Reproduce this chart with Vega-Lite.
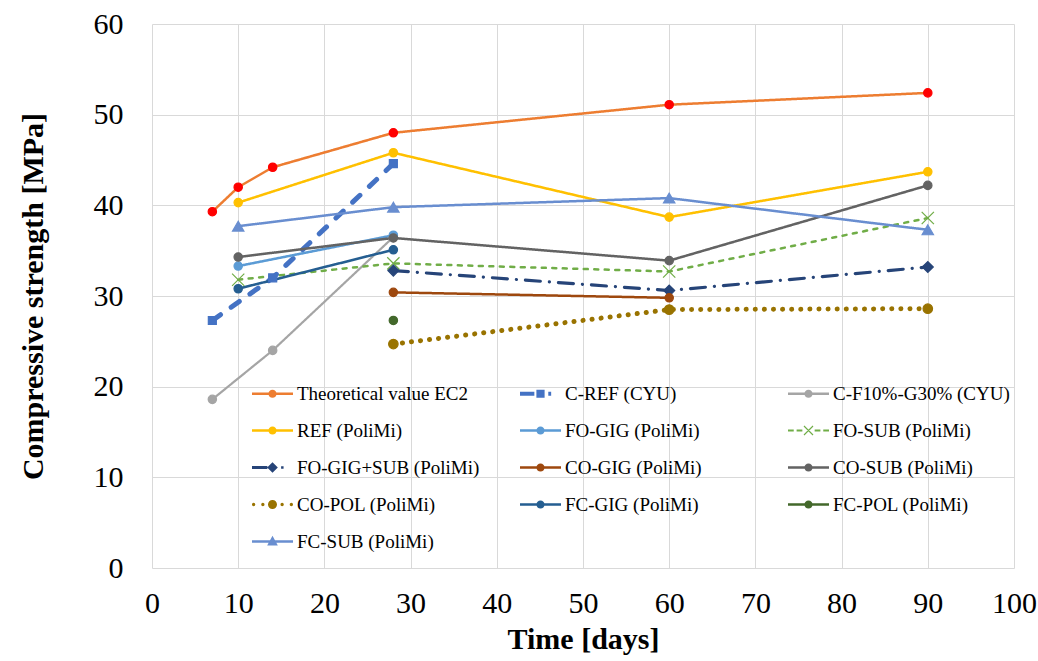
{
  "$schema": "https://vega.github.io/schema/vega-lite/v6.json",
  "width": 862,
  "height": 544,
  "autosize": {"type": "none"},
  "padding": {"left": 152, "top": 24, "right": 24, "bottom": 93},
  "background": "white",
  "config": {
    "view": {"stroke": null},
    "font": "Liberation Serif",
    "axis": {
      "grid": true,
      "gridColor": "#D9D9D9",
      "gridWidth": 1,
      "domain": false,
      "ticks": false,
      "tickSize": 0,
      "labelFont": "Liberation Serif",
      "labelFontSize": 30,
      "labelColor": "#000000",
      "titleFont": "Liberation Serif",
      "titleFontSize": 30,
      "titleFontWeight": "bold",
      "titleColor": "#000000"
    }
  },
  "data": {
    "values": [
      {"s": "Theoretical value EC2", "x": 7, "y": 39.3},
      {"s": "Theoretical value EC2", "x": 10, "y": 42.0},
      {"s": "Theoretical value EC2", "x": 14, "y": 44.2},
      {"s": "Theoretical value EC2", "x": 28, "y": 48.0},
      {"s": "Theoretical value EC2", "x": 60, "y": 51.1},
      {"s": "Theoretical value EC2", "x": 90, "y": 52.4},
      {"s": "C-REF (CYU)", "x": 7, "y": 27.3},
      {"s": "C-REF (CYU)", "x": 14, "y": 32.0},
      {"s": "C-REF (CYU)", "x": 28, "y": 44.6},
      {"s": "C-F10%-G30% (CYU)", "x": 7, "y": 18.6},
      {"s": "C-F10%-G30% (CYU)", "x": 14, "y": 24.0},
      {"s": "C-F10%-G30% (CYU)", "x": 28, "y": 36.5},
      {"s": "REF (PoliMi)", "x": 10, "y": 40.3},
      {"s": "REF (PoliMi)", "x": 28, "y": 45.8},
      {"s": "REF (PoliMi)", "x": 60, "y": 38.7},
      {"s": "REF (PoliMi)", "x": 90, "y": 43.7},
      {"s": "FO-GIG (PoliMi)", "x": 10, "y": 33.3},
      {"s": "FO-GIG (PoliMi)", "x": 28, "y": 36.7},
      {"s": "FO-SUB (PoliMi)", "x": 10, "y": 31.8},
      {"s": "FO-SUB (PoliMi)", "x": 28, "y": 33.6},
      {"s": "FO-SUB (PoliMi)", "x": 60, "y": 32.7},
      {"s": "FO-SUB (PoliMi)", "x": 90, "y": 38.6},
      {"s": "FO-GIG+SUB (PoliMi)", "x": 28, "y": 32.8},
      {"s": "FO-GIG+SUB (PoliMi)", "x": 60, "y": 30.6},
      {"s": "FO-GIG+SUB (PoliMi)", "x": 90, "y": 33.2},
      {"s": "CO-GIG (PoliMi)", "x": 28, "y": 30.4},
      {"s": "CO-GIG (PoliMi)", "x": 60, "y": 29.8},
      {"s": "CO-SUB (PoliMi)", "x": 10, "y": 34.3},
      {"s": "CO-SUB (PoliMi)", "x": 28, "y": 36.4},
      {"s": "CO-SUB (PoliMi)", "x": 60, "y": 33.9},
      {"s": "CO-SUB (PoliMi)", "x": 90, "y": 42.2},
      {"s": "CO-POL (PoliMi)", "x": 28, "y": 24.7},
      {"s": "CO-POL (PoliMi)", "x": 60, "y": 28.5},
      {"s": "CO-POL (PoliMi)", "x": 90, "y": 28.6},
      {"s": "FC-GIG (PoliMi)", "x": 10, "y": 30.8},
      {"s": "FC-GIG (PoliMi)", "x": 28, "y": 35.1},
      {"s": "FC-POL (PoliMi)", "x": 28, "y": 27.3},
      {"s": "FC-SUB (PoliMi)", "x": 10, "y": 37.7},
      {"s": "FC-SUB (PoliMi)", "x": 28, "y": 39.8},
      {"s": "FC-SUB (PoliMi)", "x": 60, "y": 40.8},
      {"s": "FC-SUB (PoliMi)", "x": 90, "y": 37.3}
    ]
  },
  "layer": [
    {
      "mark": {"type": "line", "strokeCap": "round", "strokeJoin": "round"},
      "encoding": {
        "x": {
          "field": "x", "type": "quantitative",
          "scale": {"domain": [0, 100], "nice": false},
          "axis": {"values": [0,10,20,30,40,50,60,70,80,90,100], "title": "Time [days]", "labelPadding": 20, "titlePadding": 6, "labelFlush": false}
        },
        "y": {
          "field": "y", "type": "quantitative",
          "scale": {"domain": [0, 60], "nice": false},
          "axis": {"values": [0,10,20,30,40,50,60], "title": "Compressive strength [MPa]", "labelPadding": 29, "titlePadding": 45, "labelFlush": false}
        },
        "color": {
          "field": "s", "type": "nominal",
          "scale": {
            "domain": ["Theoretical value EC2", "C-REF (CYU)", "C-F10%-G30% (CYU)", "REF (PoliMi)", "FO-GIG (PoliMi)", "FO-SUB (PoliMi)", "FO-GIG+SUB (PoliMi)", "CO-GIG (PoliMi)", "CO-SUB (PoliMi)", "CO-POL (PoliMi)", "FC-GIG (PoliMi)", "FC-POL (PoliMi)", "FC-SUB (PoliMi)"],
            "range": ["#ED7D31", "#4472C4", "#A5A5A5", "#FFC000", "#5B9BD5", "#70AD47", "#264478", "#9E480E", "#636363", "#997300", "#255E91", "#43682B", "#698ED0"]
          },
          "legend": {
            "title": null,
            "orient": "none",
            "direction": "horizontal",
            "legendX": 100,
            "legendY": 349,
            "columns": 3,
            "gridAlign": "all",
            "columnPadding": 40,
            "rowPadding": 6,
            "padding": 0,
            "symbolSize": 1681,
            "symbolStrokeWidth": 0,
            "labelOffset": 4,
            "labelFont": "Liberation Serif",
            "labelFontSize": 19,
            "labelColor": "#000000",
            "labelLimit": 400,
            "encode": {
              "symbols": {
                "update": {
                  "fill": {"scale": "color", "field": "value"},
                  "stroke": {"value": "transparent"},
                  "strokeWidth": {"value": 0},
                  "size": {"value": 1681},
                  "shape": {"signal": "datum.value === 'C-REF (CYU)' ? 'M-1,-0.1H-0.3V0.1H-1Z M-0.2,-0.2H0.2V0.2H-0.2Z M0.38,-0.1H0.52V0.1H0.38Z' : datum.value === 'FO-SUB (PoliMi)' ? 'M-1,-0.05H-0.72V0.05H-1Z M-0.58,-0.05H-0.3V0.05H-0.58Z M0.3,-0.05H0.58V0.05H0.3Z M0.72,-0.05H1V0.05H0.72Z M-0.24,-0.2L-0.2,-0.24L0.24,0.2L0.2,0.24Z M-0.24,0.2L0.2,-0.24L0.24,-0.2L-0.2,0.24Z' : datum.value === 'FO-GIG+SUB (PoliMi)' ? 'M-1,-0.07H-0.25V0.07H-1Z M0,-0.26L0.26,0L0,0.26L-0.26,0Z M0.42,-0.06H0.54V0.06H0.42Z' : datum.value === 'CO-POL (PoliMi)' ? 'M-0.84,0A0.08,0.08,0,1,1,-1,0A0.08,0.08,0,1,1,-0.84,0Z M-0.39,0A0.08,0.08,0,1,1,-0.55,0A0.08,0.08,0,1,1,-0.39,0Z M0.22,0A0.22,0.22,0,1,1,-0.22,0A0.22,0.22,0,1,1,0.22,0Z M0.55,0A0.08,0.08,0,1,1,0.39,0A0.08,0.08,0,1,1,0.55,0Z M1,0A0.08,0.08,0,1,1,0.84,0A0.08,0.08,0,1,1,1,0Z' : datum.value === 'FC-SUB (PoliMi)' ? 'M-1,-0.06H1V0.06H-1Z M0,-0.28L0.26,0.2L-0.26,0.2Z' : 'M-1,-0.06H1V0.06H-1Z M0.2,0A0.2,0.2,0,1,1,-0.2,0A0.2,0.2,0,1,1,0.2,0Z'"}
                }
              }
            }
          }
        },
        "strokeDash": {
          "field": "s", "type": "nominal", "legend": null,
          "scale": {
            "domain": ["FC-SUB (PoliMi)", "FC-POL (PoliMi)", "FC-GIG (PoliMi)", "CO-POL (PoliMi)", "CO-SUB (PoliMi)", "CO-GIG (PoliMi)", "FO-GIG+SUB (PoliMi)", "FO-SUB (PoliMi)", "FO-GIG (PoliMi)", "REF (PoliMi)", "C-F10%-G30% (CYU)", "C-REF (CYU)", "Theoretical value EC2"],
            "range": [[1, 0], [1, 0], [1, 0], [0.1, 9], [1, 0], [1, 0], [15, 9, 0.1, 9], [4, 6.5], [1, 0], [1, 0], [1, 0], [10, 13], [1, 0]]
          }
        },
        "strokeWidth": {
          "field": "s", "type": "nominal", "legend": null,
          "scale": {
            "type": "ordinal",
            "domain": ["FC-SUB (PoliMi)", "FC-POL (PoliMi)", "FC-GIG (PoliMi)", "CO-POL (PoliMi)", "CO-SUB (PoliMi)", "CO-GIG (PoliMi)", "FO-GIG+SUB (PoliMi)", "FO-SUB (PoliMi)", "FO-GIG (PoliMi)", "REF (PoliMi)", "C-F10%-G30% (CYU)", "C-REF (CYU)", "Theoretical value EC2"],
            "range": [2.5, 2.5, 2.5, 5, 2.5, 2.5, 3.2, 2.5, 2.5, 2.5, 2.2, 5, 2.5]
          }
        }
      }
    },
    {
      "mark": {"type": "point", "filled": true, "opacity": 1, "strokeWidth": 1.2},
      "encoding": {
        "x": {"field": "x", "type": "quantitative"},
        "y": {"field": "y", "type": "quantitative"},
        "fill": {
          "field": "s", "type": "nominal", "legend": null,
          "scale": {
            "domain": ["FC-SUB (PoliMi)", "FC-POL (PoliMi)", "FC-GIG (PoliMi)", "CO-POL (PoliMi)", "CO-SUB (PoliMi)", "CO-GIG (PoliMi)", "FO-GIG+SUB (PoliMi)", "FO-SUB (PoliMi)", "FO-GIG (PoliMi)", "REF (PoliMi)", "C-F10%-G30% (CYU)", "C-REF (CYU)", "Theoretical value EC2"],
            "range": ["#698ED0", "#43682B", "#255E91", "#997300", "#636363", "#9E480E", "#264478", "#70AD47", "#5B9BD5", "#FFC000", "#A5A5A5", "#4472C4", "#FF0000"]
          }
        },
        "stroke": {
          "field": "s", "type": "nominal", "legend": null,
          "scale": {
            "domain": ["FC-SUB (PoliMi)", "FC-POL (PoliMi)", "FC-GIG (PoliMi)", "CO-POL (PoliMi)", "CO-SUB (PoliMi)", "CO-GIG (PoliMi)", "FO-GIG+SUB (PoliMi)", "FO-SUB (PoliMi)", "FO-GIG (PoliMi)", "REF (PoliMi)", "C-F10%-G30% (CYU)", "C-REF (CYU)", "Theoretical value EC2"],
            "range": ["#698ED0", "#43682B", "#255E91", "#997300", "#636363", "#9E480E", "#264478", "#70AD47", "#5B9BD5", "#FFC000", "#A5A5A5", "#4472C4", "#FF0000"]
          }
        },
        "shape": {
          "field": "s", "type": "nominal", "legend": null,
          "scale": {
            "domain": ["FC-SUB (PoliMi)", "FC-POL (PoliMi)", "FC-GIG (PoliMi)", "CO-POL (PoliMi)", "CO-SUB (PoliMi)", "CO-GIG (PoliMi)", "FO-GIG+SUB (PoliMi)", "FO-SUB (PoliMi)", "FO-GIG (PoliMi)", "REF (PoliMi)", "C-F10%-G30% (CYU)", "C-REF (CYU)", "Theoretical value EC2"],
            "range": ["triangle-up", "circle", "circle", "circle", "circle", "circle", "diamond", "M-1,-1L1,1M-1,1L1,-1", "circle", "circle", "circle", "square", "circle"]
          }
        },
        "size": {
          "field": "s", "type": "nominal", "legend": null,
          "scale": {
            "type": "ordinal",
            "domain": ["FC-SUB (PoliMi)", "FC-POL (PoliMi)", "FC-GIG (PoliMi)", "CO-POL (PoliMi)", "CO-SUB (PoliMi)", "CO-GIG (PoliMi)", "FO-GIG+SUB (PoliMi)", "FO-SUB (PoliMi)", "FO-GIG (PoliMi)", "REF (PoliMi)", "C-F10%-G30% (CYU)", "C-REF (CYU)", "Theoretical value EC2"],
            "range": [130, 70, 70, 90, 70, 70, 121, 150, 70, 70, 70, 64, 70]
          }
        }
      }
    }
  ]
}
